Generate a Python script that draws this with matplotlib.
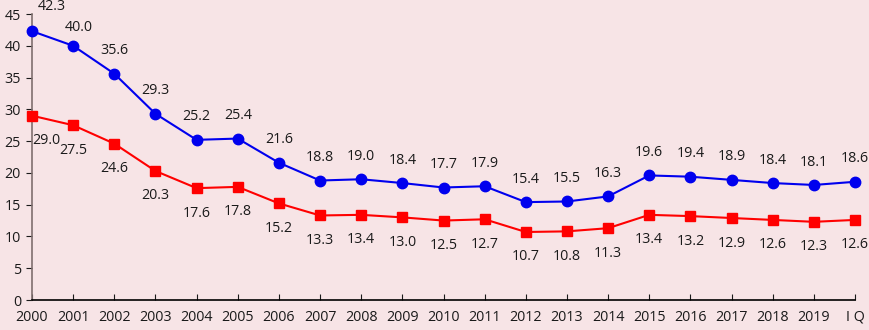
import matplotlib.pyplot as plt

years = [str(y) for y in range(2000, 2020)] + ["I Q"]
blue_vals = [42.3, 40.0, 35.6, 29.3, 25.2, 25.4, 21.6, 18.8, 19.0, 18.4, 17.7,
             17.9, 15.4, 15.5, 16.3, 19.6, 19.4, 18.9, 18.4, 18.1, 18.6]
red_vals = [29.0, 27.5, 24.6, 20.3, 17.6, 17.8, 15.2, 13.3, 13.4, 13.0, 12.5,
            12.7, 10.7, 10.8, 11.3, 13.4, 13.2, 12.9, 12.6, 12.3, 12.6]

bg = "#f7e4e6"
txt = "#1a1a1a"
plt.rcParams['font.family'] = ['Open Sans', 'DejaVu Sans']

fig = plt.figure(figsize=(8.69, 3.3), dpi=100, facecolor=bg)
ax = fig.add_axes([32 / 869, 1 - 300 / 330, 823 / 869, 286 / 330], facecolor=bg)

x = list(range(len(years)))
ax.plot(x, blue_vals, color="#0000ee", lw=1.5, marker="o", ms=7.5, clip_on=False, zorder=3)
ax.plot(x, red_vals, color="#ff0000", lw=1.5, marker="s", ms=7.5, clip_on=False, zorder=3)

# label offsets (points); first points are pushed right off the axis
blue_dx = {0: 14, 1: 4}
blue_dy = {0: 18, 1: 13}
for i, v in enumerate(blue_vals):
    ax.annotate(f"{v:.1f}", (i, v), xytext=(blue_dx.get(i, 0), blue_dy.get(i, 16.5)),
                textcoords="offset points", ha="center", va="center",
                fontsize=10.3, color=txt, annotation_clip=False)
for i, v in enumerate(red_vals):
    dx = 10 if i == 0 else 0
    ax.annotate(f"{v:.1f}", (i, v), xytext=(dx, -18), textcoords="offset points",
                ha="center", va="center", fontsize=10.3, color=txt, annotation_clip=False)

ax.set_xlim(0, len(years) - 1)
ax.set_ylim(0, 45)
ax.set_yticks(range(0, 46, 5))
ax.set_xticks(x)
ax.set_xticklabels(years)
ax.tick_params(axis="x", direction="in", length=4, labelsize=10.3, pad=7, colors=txt)
ax.tick_params(axis="y", direction="out", length=4, labelsize=10.3, pad=4, colors=txt)
for s in ["top", "right"]:
    ax.spines[s].set_visible(False)
ax.spines["left"].set_color("#7f6f6f")
ax.spines["left"].set_linewidth(1.2)
ax.spines["bottom"].set_color("black")
ax.spines["bottom"].set_linewidth(1.2)

fig.savefig("out.png", dpi=100, facecolor=bg)
